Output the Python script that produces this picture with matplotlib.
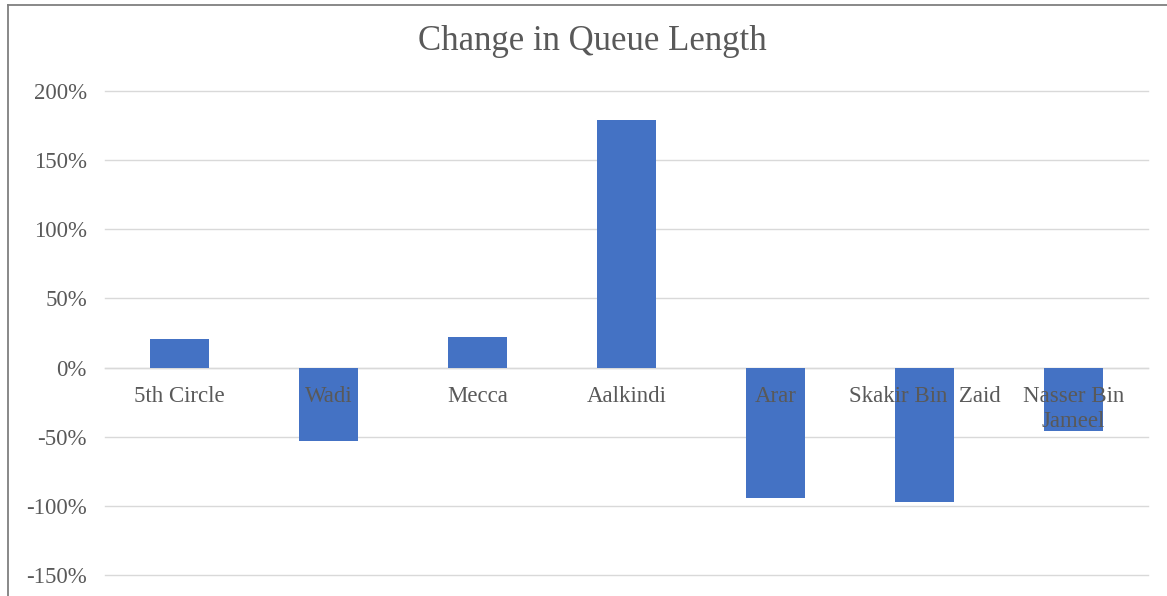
import matplotlib
matplotlib.use("Agg")
import matplotlib.pyplot as plt
from matplotlib.lines import Line2D

categories = ["5th Circle", "Wadi", "Mecca", "Aalkindi", "Arar", "Skakir Bin  Zaid", "Nasser Bin\nJameel"]
values = [0.21, -0.53, 0.22, 1.79, -0.94, -0.97, -0.46]
yticks = [-1.5, -1.0, -0.5, 0.0, 0.5, 1.0, 1.5, 2.0]
ytick_labels = ["-150%", "-100%", "-50%", "0%", "50%", "100%", "150%", "200%"]
title = "Change in Queue Length"

W, H = 1167, 596
fig = plt.figure(figsize=(W / 100, H / 100), dpi=100)
fig.patch.set_facecolor("white")

serif = ["Liberation Serif", "DejaVu Serif"]
text_color = "#595959"
grid_color = "#d9d9d9"
bar_color = "#4472C4"

left, right, top, bottom = 105, 1148, 91, 575
ax = fig.add_axes([left / W, 1 - bottom / H, (right - left) / W, (bottom - top) / H])

x = list(range(len(categories)))
ax.bar(x, values, width=0.4, color=bar_color, zorder=2)

ax.set_xlim(-0.5, len(categories) - 0.5)
ax.set_ylim(-1.5, 2.0)
ax.set_yticks(yticks)
ax.set_yticklabels(ytick_labels, fontfamily=serif, fontsize=16.5, color=text_color)
ax.yaxis.grid(True, color=grid_color, linewidth=1.0, zorder=0)
ax.set_axisbelow(True)
for gl in ax.get_ygridlines():
    gl.set_clip_on(False)

# category axis crossing at zero
ax.spines["bottom"].set_position(("data", 0))
ax.spines["bottom"].set_color(grid_color)
ax.spines["bottom"].set_linewidth(1.0)
ax.spines["bottom"].set_zorder(1)
for s in ["left", "right", "top"]:
    ax.spines[s].set_visible(False)
ax.set_xticks(x)
ax.set_xticklabels(categories, fontfamily=serif, fontsize=16.5, color=text_color)
for lbl in ax.get_xticklabels():
    lbl.set_linespacing(1.3)
ax.tick_params(axis="x", length=0, pad=13)
ax.tick_params(axis="y", length=0, pad=13)
ax.xaxis.set_zorder(5)
ax.patch.set_alpha(0)

fig.text(592 / W, 1 - 41 / H, title, ha="center", va="center",
         fontfamily=serif, fontsize=25, color=text_color)

# outer frame (top and left visible)
fig.add_artist(Line2D([8 / W, 1.0], [1 - 5 / H, 1 - 5 / H], transform=fig.transFigure,
                      color="#7f7f7f", linewidth=1.3))
fig.add_artist(Line2D([8 / W, 8 / W], [1 - 5 / H, 0.0], transform=fig.transFigure,
                      color="#7f7f7f", linewidth=1.3))

fig.savefig("out.png", dpi=100, facecolor="white")
